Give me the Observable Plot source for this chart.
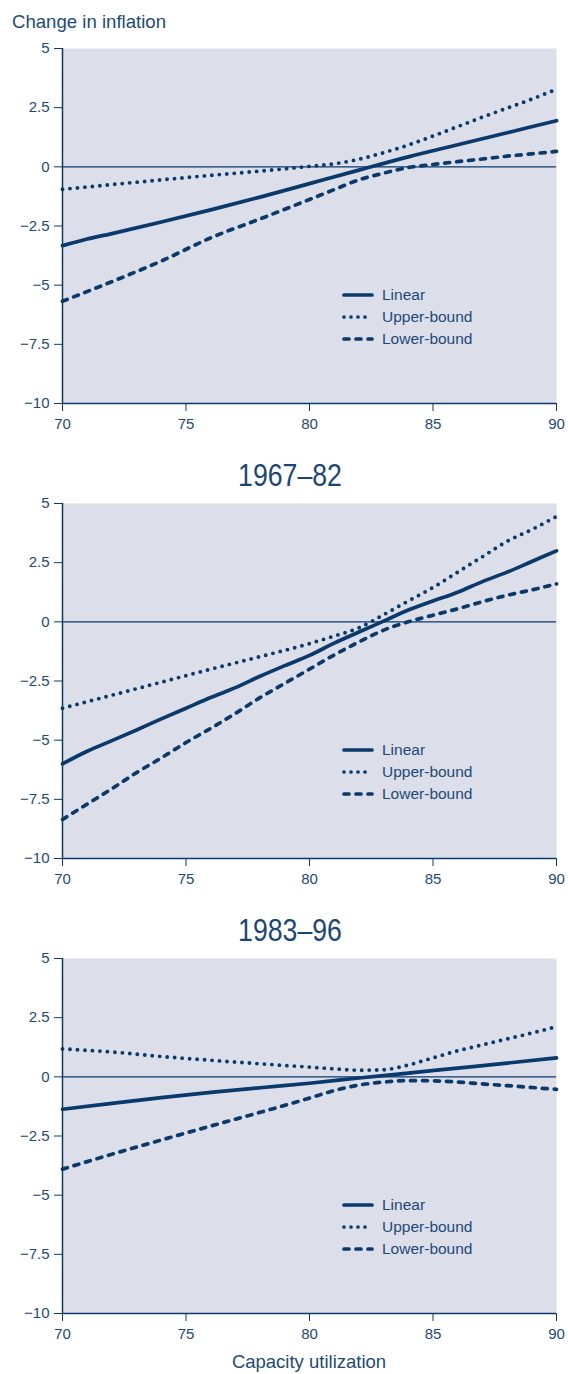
<!DOCTYPE html>
<html><head><meta charset="utf-8">
<script src="https://cdn.jsdelivr.net/npm/d3@7"></script>
<script src="https://cdn.jsdelivr.net/npm/@observablehq/plot@0.6"></script>
<style>
body{margin:0;background:#fff;}
#wrap{position:relative;width:568px;height:1374px;font-family:"Liberation Sans",Arial,Helvetica,sans-serif;color:#1d4a79;overflow:hidden;}
.abs{position:absolute;white-space:nowrap;}
.ytitle{left:12px;top:13px;font-size:18.6px;line-height:18px;}
.ptitle{left:189.5px;width:200px;text-align:center;font-family:"Liberation Sans",Arial,sans-serif;font-size:31px;line-height:32px;color:#1a4677;transform:scaleX(0.86);transform-origin:50% 50%;}
.xtitle{left:62px;width:494px;text-align:center;font-size:18.5px;line-height:18.5px;top:1353px;}
.legrow{height:22px;line-height:22px;font-size:15.5px;display:flex;align-items:center;}
.legrow svg{margin-right:8px;}
</style></head><body><div id="wrap"></div>
<script>
// ---- data ----
const xTicks = [70, 75, 80, 85, 90];
const yTicks = [5, 2.5, 0, -2.5, -5, -7.5, -10];
const seriesNames = ["Linear", "Upper-bound", "Lower-bound"];
const panelTitles = [null, "1967\u201382", "1983\u201396"];

const p1Linear = [[70,-3.33],[71,-3.05],[72,-2.82],[74,-2.33],[76,-1.82],[78,-1.28],[80,-0.71],[82,-0.14],[84,0.42],[86,0.93],[88,1.44],[90,1.95]];
const p1Upper  = [[70,-0.95],[72,-0.75],[74,-0.55],[76,-0.36],[78,-0.18],[80,0.02],[81,0.13],[82,0.32],[83,0.6],[84,0.92],[85,1.3],[86,1.7],[87,2.1],[88,2.48],[89,2.86],[90,3.28]];
const p1Lower  = [[70,-5.68],[72,-4.85],[74,-3.98],[76,-3.0],[78,-2.2],[80,-1.38],[81,-0.96],[82,-0.55],[83,-0.27],[84,-0.03],[85,0.1],[86,0.22],[87,0.33],[88,0.45],[89,0.55],[90,0.65]];

const p2Linear = [[70,-6.0],[71,-5.47],[72,-5.02],[73,-4.57],[74,-4.1],[75,-3.65],[76,-3.2],[77,-2.78],[78,-2.3],[79,-1.85],[80,-1.42],[81,-0.9],[82,-0.43],[83,0.03],[84,0.5],[85,0.88],[86,1.25],[87,1.7],[88,2.1],[89,2.55],[90,3.0]];
const p2Upper  = [[70,-3.65],[72,-3.1],[74,-2.55],[76,-2.0],[78,-1.47],[80,-0.92],[81,-0.6],[82,-0.25],[83,0.3],[84,0.88],[85,1.45],[86,2.1],[87,2.75],[88,3.4],[89,3.9],[90,4.45]];
const p2Lower  = [[70,-8.35],[71,-7.7],[72,-7.05],[73,-6.37],[74,-5.75],[75,-5.1],[76,-4.5],[77,-3.87],[78,-3.2],[79,-2.6],[80,-2.0],[81,-1.4],[82,-0.85],[83,-0.35],[84,0.0],[85,0.28],[86,0.55],[87,0.85],[88,1.12],[89,1.35],[90,1.6]];

const p3Linear = [[70,-1.37],[72,-1.12],[74,-0.88],[76,-0.66],[78,-0.46],[80,-0.27],[82,-0.05],[84,0.16],[86,0.37],[88,0.58],[90,0.8]];
const p3Upper  = [[70,1.18],[72,1.05],[74,0.86],[76,0.7],[78,0.55],[80,0.41],[81,0.34],[82,0.28],[83,0.3],[84,0.5],[85,0.8],[86,1.1],[87,1.35],[88,1.6],[89,1.85],[90,2.12]];
const p3Lower  = [[70,-3.9],[72,-3.27],[74,-2.67],[76,-2.08],[78,-1.5],[80,-0.9],[81,-0.58],[82,-0.35],[83,-0.22],[84,-0.16],[85,-0.17],[86,-0.22],[87,-0.3],[88,-0.37],[89,-0.45],[90,-0.53]];

const panels = [
  [p1Linear, p1Upper, p1Lower],
  [p2Linear, p2Upper, p2Lower],
  [p3Linear, p3Upper, p3Lower]
];

// ---- styles ----
const navy = "#0a3a6b";
const textColor = "#1d4a79";
const bg = "#dcdee9";
const styles = {
  "Linear":      {dash: null, cap: "round"},
  "Upper-bound": {dash: "0 7.5", cap: "round"},
  "Lower-bound": {dash: "5 7", cap: "round"}
};
const fmt = d => (d < 0 ? "\u2212" : "") + Math.abs(d);

const wrap = document.getElementById("wrap");
function addDiv(cls, text, top) {
  const d = document.createElement("div");
  d.className = "abs " + cls;
  d.textContent = text;
  if (top != null) d.style.top = top + "px";
  wrap.appendChild(d);
  return d;
}

addDiv("ytitle", "Change in inflation");

const plotTops = [48, 503, 958];
const marginTop = 10, innerH = 355, marginBottom = 30;

panels.forEach((series, i) => {
  const rows = [];
  series.forEach((pts, j) => pts.forEach(([x, y]) => rows.push({x, y, s: seriesNames[j]})));
  const marks = [
    Plot.frame({fill: bg, stroke: "none"}),
    Plot.ruleY([0], {stroke: navy, strokeWidth: 1.2}),
    ...seriesNames.map(name => Plot.line(rows.filter(r => r.s === name), {
      x: "x", y: "y", stroke: navy, strokeWidth: name === "Upper-bound" ? 3.9 : 3.7,
      strokeDasharray: styles[name].dash, strokeLinecap: styles[name].cap,
      curve: "monotone-x"
    })),
    Plot.ruleX([70], {stroke: navy, strokeWidth: 1.5}),
    Plot.ruleY([-10], {stroke: navy, strokeWidth: 1.5}),
    Plot.axisY(yTicks, {tickSize: 8, tickPadding: 5, tickFormat: fmt, stroke: navy, fill: textColor, fontSize: 15, label: null}),
    Plot.axisX(xTicks, {tickSize: 8, tickPadding: 7, tickFormat: fmt, stroke: navy, fill: textColor, fontSize: 15, label: null})
  ];
  const chart = Plot.plot({
    width: 568,
    height: marginTop + innerH + marginBottom,
    marginTop, marginBottom, marginLeft: 62, marginRight: 12,
    x: {domain: [70, 90]},
    y: {domain: [-10, 5]},
    style: {background: "transparent", overflow: "visible", fontFamily: "'Liberation Sans', Arial, Helvetica, sans-serif", fontSize: "15px", color: textColor},
    marks
  });
  chart.style.position = "absolute";
  chart.style.left = "0px";
  chart.style.top = (plotTops[i] - marginTop) + "px";
  wrap.appendChild(chart);

  if (panelTitles[i]) addDiv("ptitle", panelTitles[i], plotTops[i] - 43);

  // legend
  const leg = document.createElement("div");
  leg.className = "abs";
  leg.style.left = "342px";
  leg.style.top = (plotTops[i] + 236) + "px";
  seriesNames.forEach(name => {
    const row = document.createElement("div");
    row.className = "legrow";
    const ns = "http://www.w3.org/2000/svg";
    const s = document.createElementNS(ns, "svg");
    s.setAttribute("width", 32); s.setAttribute("height", 10);
    const ln = document.createElementNS(ns, "line");
    ln.setAttribute("x1", 2); ln.setAttribute("x2", 30);
    ln.setAttribute("y1", 5); ln.setAttribute("y2", 5);
    ln.setAttribute("stroke", navy); ln.setAttribute("stroke-width", 3.7);
    ln.setAttribute("stroke-linecap", styles[name].cap);
    if (styles[name].dash) ln.setAttribute("stroke-dasharray", name === "Upper-bound" ? "0 7" : "5 7");
    s.appendChild(ln);
    row.appendChild(s);
    const t = document.createElement("span");
    t.textContent = name;
    row.appendChild(t);
    leg.appendChild(row);
  });
  wrap.appendChild(leg);
});

addDiv("xtitle", "Capacity utilization");
</script></body></html>
